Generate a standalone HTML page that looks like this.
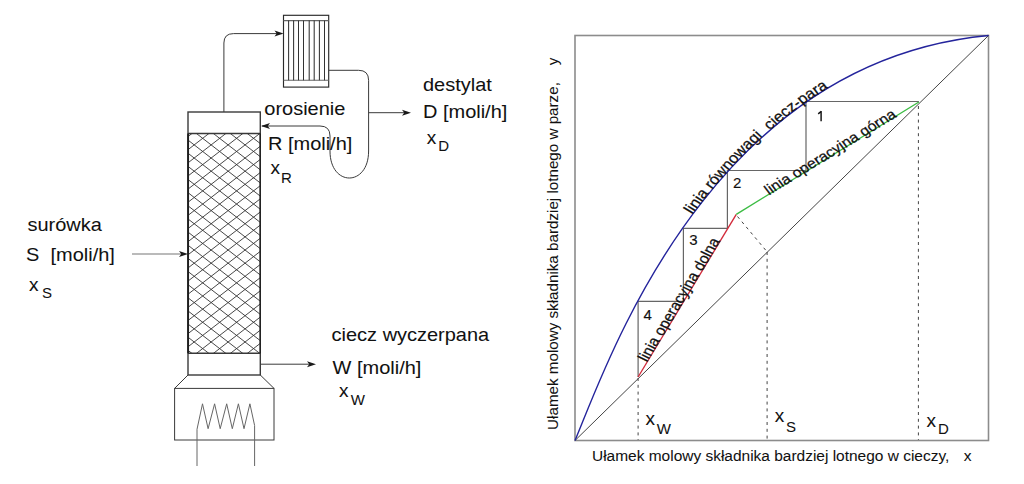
<!DOCTYPE html>
<html><head><meta charset="utf-8"><style>
html,body{margin:0;padding:0;background:#fff;}
svg{display:block;}
text{font-family:"Liberation Sans",sans-serif;white-space:pre;stroke:#111;stroke-width:0.05px;}
.b{stroke-width:0.25px;}
.c{stroke-width:0.15px;}
</style></head><body>
<svg width="1024" height="484" viewBox="0 0 1024 484">
<rect x="283.5" y="15.3" width="45.2" height="71.8" fill="none" stroke="#2a2a2a" stroke-width="1.15"/>
<line x1="283.5" y1="20.6" x2="328.7" y2="20.6" stroke="#666" stroke-width="1.1" />
<line x1="283.5" y1="80.3" x2="328.7" y2="80.3" stroke="#666" stroke-width="1.1" />
<line x1="288.6" y1="20.6" x2="288.6" y2="80.3" stroke="#333" stroke-width="1.05" />
<line x1="293.6" y1="20.6" x2="293.6" y2="80.3" stroke="#333" stroke-width="1.05" />
<line x1="298.5" y1="20.6" x2="298.5" y2="80.3" stroke="#333" stroke-width="1.05" />
<line x1="303.5" y1="20.6" x2="303.5" y2="80.3" stroke="#333" stroke-width="1.05" />
<line x1="309.2" y1="20.6" x2="309.2" y2="80.3" stroke="#333" stroke-width="1.05" />
<line x1="314.2" y1="20.6" x2="314.2" y2="80.3" stroke="#333" stroke-width="1.05" />
<line x1="319.4" y1="20.6" x2="319.4" y2="80.3" stroke="#333" stroke-width="1.05" />
<line x1="324.5" y1="20.6" x2="324.5" y2="80.3" stroke="#333" stroke-width="1.05" />
<path d="M223.9,112 V43 Q223.9,33.6 233.5,33.6 H282" stroke="#3a3a3a" stroke-width="1" fill="none" />
<path d="M283.5,33.6 L274.5,30.6 L276.7,33.6 L274.5,36.6 Z" fill="#1a1a1a"/>
<rect x="188" y="112" width="72.3" height="263" fill="none" stroke="#3a3a3a" stroke-width="1.4"/>
<line x1="188" y1="133.5" x2="260.3" y2="133.5" stroke="#3a3a3a" stroke-width="1.4" />
<line x1="188" y1="353.3" x2="260.3" y2="353.3" stroke="#3a3a3a" stroke-width="1.4" />
<clipPath id="hc"><rect x="188" y="133.5" width="72.3" height="219.8"/></clipPath>
<g clip-path="url(#hc)" stroke="#333" stroke-width="0.9"><line x1="180" y1="-128.90" x2="270" y2="-59.15"/><line x1="180" y1="-106.90" x2="270" y2="-176.65"/><line x1="180" y1="-115.76" x2="270" y2="-46.01"/><line x1="180" y1="-93.76" x2="270" y2="-163.51"/><line x1="180" y1="-102.62" x2="270" y2="-32.87"/><line x1="180" y1="-80.62" x2="270" y2="-150.37"/><line x1="180" y1="-89.48" x2="270" y2="-19.73"/><line x1="180" y1="-67.48" x2="270" y2="-137.23"/><line x1="180" y1="-76.34" x2="270" y2="-6.59"/><line x1="180" y1="-54.34" x2="270" y2="-124.09"/><line x1="180" y1="-63.20" x2="270" y2="6.55"/><line x1="180" y1="-41.20" x2="270" y2="-110.95"/><line x1="180" y1="-50.06" x2="270" y2="19.69"/><line x1="180" y1="-28.06" x2="270" y2="-97.81"/><line x1="180" y1="-36.92" x2="270" y2="32.83"/><line x1="180" y1="-14.92" x2="270" y2="-84.67"/><line x1="180" y1="-23.78" x2="270" y2="45.97"/><line x1="180" y1="-1.78" x2="270" y2="-71.53"/><line x1="180" y1="-10.64" x2="270" y2="59.11"/><line x1="180" y1="11.36" x2="270" y2="-58.39"/><line x1="180" y1="2.50" x2="270" y2="72.25"/><line x1="180" y1="24.50" x2="270" y2="-45.25"/><line x1="180" y1="15.64" x2="270" y2="85.39"/><line x1="180" y1="37.64" x2="270" y2="-32.11"/><line x1="180" y1="28.78" x2="270" y2="98.53"/><line x1="180" y1="50.78" x2="270" y2="-18.97"/><line x1="180" y1="41.92" x2="270" y2="111.67"/><line x1="180" y1="63.92" x2="270" y2="-5.83"/><line x1="180" y1="55.06" x2="270" y2="124.81"/><line x1="180" y1="77.06" x2="270" y2="7.31"/><line x1="180" y1="68.20" x2="270" y2="137.95"/><line x1="180" y1="90.20" x2="270" y2="20.45"/><line x1="180" y1="81.34" x2="270" y2="151.09"/><line x1="180" y1="103.34" x2="270" y2="33.59"/><line x1="180" y1="94.48" x2="270" y2="164.23"/><line x1="180" y1="116.48" x2="270" y2="46.73"/><line x1="180" y1="107.62" x2="270" y2="177.37"/><line x1="180" y1="129.62" x2="270" y2="59.87"/><line x1="180" y1="120.76" x2="270" y2="190.51"/><line x1="180" y1="142.76" x2="270" y2="73.01"/><line x1="180" y1="133.90" x2="270" y2="203.65"/><line x1="180" y1="155.90" x2="270" y2="86.15"/><line x1="180" y1="147.04" x2="270" y2="216.79"/><line x1="180" y1="169.04" x2="270" y2="99.29"/><line x1="180" y1="160.18" x2="270" y2="229.93"/><line x1="180" y1="182.18" x2="270" y2="112.43"/><line x1="180" y1="173.32" x2="270" y2="243.07"/><line x1="180" y1="195.32" x2="270" y2="125.57"/><line x1="180" y1="186.46" x2="270" y2="256.21"/><line x1="180" y1="208.46" x2="270" y2="138.71"/><line x1="180" y1="199.60" x2="270" y2="269.35"/><line x1="180" y1="221.60" x2="270" y2="151.85"/><line x1="180" y1="212.74" x2="270" y2="282.49"/><line x1="180" y1="234.74" x2="270" y2="164.99"/><line x1="180" y1="225.88" x2="270" y2="295.63"/><line x1="180" y1="247.88" x2="270" y2="178.13"/><line x1="180" y1="239.02" x2="270" y2="308.77"/><line x1="180" y1="261.02" x2="270" y2="191.27"/><line x1="180" y1="252.16" x2="270" y2="321.91"/><line x1="180" y1="274.16" x2="270" y2="204.41"/><line x1="180" y1="265.30" x2="270" y2="335.05"/><line x1="180" y1="287.30" x2="270" y2="217.55"/><line x1="180" y1="278.44" x2="270" y2="348.19"/><line x1="180" y1="300.44" x2="270" y2="230.69"/><line x1="180" y1="291.58" x2="270" y2="361.33"/><line x1="180" y1="313.58" x2="270" y2="243.83"/><line x1="180" y1="304.72" x2="270" y2="374.47"/><line x1="180" y1="326.72" x2="270" y2="256.97"/><line x1="180" y1="317.86" x2="270" y2="387.61"/><line x1="180" y1="339.86" x2="270" y2="270.11"/><line x1="180" y1="331.00" x2="270" y2="400.75"/><line x1="180" y1="353.00" x2="270" y2="283.25"/><line x1="180" y1="344.14" x2="270" y2="413.89"/><line x1="180" y1="366.14" x2="270" y2="296.39"/><line x1="180" y1="357.28" x2="270" y2="427.03"/><line x1="180" y1="379.28" x2="270" y2="309.53"/><line x1="180" y1="370.42" x2="270" y2="440.17"/><line x1="180" y1="392.42" x2="270" y2="322.67"/><line x1="180" y1="383.56" x2="270" y2="453.31"/><line x1="180" y1="405.56" x2="270" y2="335.81"/><line x1="180" y1="396.70" x2="270" y2="466.45"/><line x1="180" y1="418.70" x2="270" y2="348.95"/><line x1="180" y1="409.84" x2="270" y2="479.59"/><line x1="180" y1="431.84" x2="270" y2="362.09"/><line x1="180" y1="422.98" x2="270" y2="492.73"/><line x1="180" y1="444.98" x2="270" y2="375.23"/><line x1="180" y1="436.12" x2="270" y2="505.87"/><line x1="180" y1="458.12" x2="270" y2="388.37"/><line x1="180" y1="449.26" x2="270" y2="519.01"/><line x1="180" y1="471.26" x2="270" y2="401.51"/><line x1="180" y1="462.40" x2="270" y2="532.15"/><line x1="180" y1="484.40" x2="270" y2="414.65"/><line x1="180" y1="475.54" x2="270" y2="545.29"/><line x1="180" y1="497.54" x2="270" y2="427.79"/><line x1="180" y1="488.68" x2="270" y2="558.43"/><line x1="180" y1="510.68" x2="270" y2="440.93"/><line x1="180" y1="501.82" x2="270" y2="571.57"/><line x1="180" y1="523.82" x2="270" y2="454.07"/><line x1="180" y1="514.96" x2="270" y2="584.71"/><line x1="180" y1="536.96" x2="270" y2="467.21"/><line x1="180" y1="528.10" x2="270" y2="597.85"/><line x1="180" y1="550.10" x2="270" y2="480.35"/><line x1="180" y1="541.24" x2="270" y2="610.99"/><line x1="180" y1="563.24" x2="270" y2="493.49"/><line x1="180" y1="554.38" x2="270" y2="624.13"/><line x1="180" y1="576.38" x2="270" y2="506.63"/><line x1="180" y1="567.52" x2="270" y2="637.27"/><line x1="180" y1="589.52" x2="270" y2="519.77"/><line x1="180" y1="580.66" x2="270" y2="650.41"/><line x1="180" y1="602.66" x2="270" y2="532.91"/><line x1="180" y1="593.80" x2="270" y2="663.55"/><line x1="180" y1="615.80" x2="270" y2="546.05"/><line x1="180" y1="606.94" x2="270" y2="676.69"/><line x1="180" y1="628.94" x2="270" y2="559.19"/><line x1="180" y1="620.08" x2="270" y2="689.83"/><line x1="180" y1="642.08" x2="270" y2="572.33"/><line x1="180" y1="633.22" x2="270" y2="702.97"/><line x1="180" y1="655.22" x2="270" y2="585.47"/><line x1="180" y1="646.36" x2="270" y2="716.11"/><line x1="180" y1="668.36" x2="270" y2="598.61"/><line x1="180" y1="659.50" x2="270" y2="729.25"/><line x1="180" y1="681.50" x2="270" y2="611.75"/><line x1="180" y1="672.64" x2="270" y2="742.39"/><line x1="180" y1="694.64" x2="270" y2="624.89"/><line x1="180" y1="685.78" x2="270" y2="755.53"/><line x1="180" y1="707.78" x2="270" y2="638.03"/><line x1="180" y1="698.92" x2="270" y2="768.67"/><line x1="180" y1="720.92" x2="270" y2="651.17"/><line x1="180" y1="712.06" x2="270" y2="781.81"/><line x1="180" y1="734.06" x2="270" y2="664.31"/><line x1="180" y1="725.20" x2="270" y2="794.95"/><line x1="180" y1="747.20" x2="270" y2="677.45"/><line x1="180" y1="738.34" x2="270" y2="808.09"/><line x1="180" y1="760.34" x2="270" y2="690.59"/><line x1="180" y1="751.48" x2="270" y2="821.23"/><line x1="180" y1="773.48" x2="270" y2="703.73"/><line x1="180" y1="764.62" x2="270" y2="834.37"/><line x1="180" y1="786.62" x2="270" y2="716.87"/><line x1="180" y1="777.76" x2="270" y2="847.51"/><line x1="180" y1="799.76" x2="270" y2="730.01"/><line x1="180" y1="790.90" x2="270" y2="860.65"/><line x1="180" y1="812.90" x2="270" y2="743.15"/><line x1="180" y1="804.04" x2="270" y2="873.79"/><line x1="180" y1="826.04" x2="270" y2="756.29"/><line x1="180" y1="817.18" x2="270" y2="886.93"/><line x1="180" y1="839.18" x2="270" y2="769.43"/><line x1="180" y1="830.32" x2="270" y2="900.07"/><line x1="180" y1="852.32" x2="270" y2="782.57"/><line x1="180" y1="843.46" x2="270" y2="913.21"/><line x1="180" y1="865.46" x2="270" y2="795.71"/><line x1="180" y1="856.60" x2="270" y2="926.35"/><line x1="180" y1="878.60" x2="270" y2="808.85"/><line x1="180" y1="869.74" x2="270" y2="939.49"/><line x1="180" y1="891.74" x2="270" y2="821.99"/><line x1="180" y1="882.88" x2="270" y2="952.63"/><line x1="180" y1="904.88" x2="270" y2="835.13"/><line x1="180" y1="896.02" x2="270" y2="965.77"/><line x1="180" y1="918.02" x2="270" y2="848.27"/><line x1="180" y1="909.16" x2="270" y2="978.91"/><line x1="180" y1="931.16" x2="270" y2="861.41"/></g>
<line x1="188.1" y1="133.5" x2="188.1" y2="353.3" stroke="#1e1e1e" stroke-width="1.9" />
<line x1="260.2" y1="133.5" x2="260.2" y2="353.3" stroke="#1e1e1e" stroke-width="1.3" />
<path d="M188,375 L174.6,388.4 M260.3,375 L274,388.4" stroke="#3a3a3a" stroke-width="1" fill="none" />
<rect x="174.6" y="388.4" width="99.4" height="51.6" fill="none" stroke="#3a3a3a" stroke-width="1"/>
<path d="M197,466 V429.3 L202.5,403.8 L208.1,428.7 L214.6,403.8 L220.2,428.7 L226.7,403.8 L232.3,428.7 L238.4,403.8 L244,428.7 L249.9,403.8 L254.6,425.5 V466" stroke="#666" stroke-width="1" fill="none" />
<path d="M328.7,70.3 H358.6 Q368.6,70.3 368.6,80.3 V151 C368.6,187 330,187 330,151 V136 Q330,126 320,126 H262" stroke="#3a3a3a" stroke-width="1" fill="none" />
<path d="M261,126 L270,123 L267.8,126 L270,129 Z" fill="#1a1a1a"/>
<line x1="368.6" y1="112.7" x2="408" y2="112.7" stroke="#3a3a3a" stroke-width="1" />
<path d="M411,112.7 L402,109.7 L404.2,112.7 L402,115.7 Z" fill="#1a1a1a"/>
<line x1="132" y1="254" x2="185" y2="254" stroke="#777" stroke-width="1.1" />
<path d="M188,254 L179,251 L181.2,254 L179,257 Z" fill="#1a1a1a"/>
<line x1="260.3" y1="364.2" x2="313" y2="364.2" stroke="#3a3a3a" stroke-width="1" />
<path d="M316,364.2 L307,361.2 L309.2,364.2 L307,367.2 Z" fill="#1a1a1a"/>
<text transform="translate(423,90.6) scale(1.11,1)" font-size="18" fill="#111" >destylat</text>
<text transform="translate(423,118.3) scale(1.11,1)" font-size="18" fill="#111" >D [moli/h]</text>
<text transform="translate(426.7,143.7) scale(1.0,1)" font-size="19" fill="#111" >x</text>
<text transform="translate(438.3,151) scale(1.0,1)" font-size="15" fill="#111" >D</text>
<text transform="translate(264.3,114.8) scale(1.11,1)" font-size="18" fill="#111" >orosienie</text>
<text transform="translate(268,149.9) scale(1.11,1)" font-size="18" fill="#111" >R [moli/h]</text>
<text transform="translate(270.4,174.3) scale(1.0,1)" font-size="19" fill="#111" >x</text>
<text transform="translate(281.1,183.1) scale(1.0,1)" font-size="15" fill="#111" >R</text>
<text transform="translate(27.5,230.5) scale(1.11,1)" font-size="18" fill="#111" >surówka</text>
<text transform="translate(25.9,261.4) scale(1.11,1)" font-size="18" fill="#111" >S</text>
<text transform="translate(50.5,261.4) scale(1.11,1)" font-size="18" fill="#111" >[moli/h]</text>
<text transform="translate(29,290.6) scale(1.0,1)" font-size="19" fill="#111" >x</text>
<text transform="translate(42,298.3) scale(1.0,1)" font-size="15" fill="#111" >S</text>
<text transform="translate(331.6,340.5) scale(1.11,1)" font-size="18" fill="#111" >ciecz wyczerpana</text>
<text transform="translate(332.6,374) scale(1.11,1)" font-size="18" fill="#111" >W [moli/h]</text>
<text transform="translate(339.1,397.4) scale(1.0,1)" font-size="19" fill="#111" >x</text>
<text transform="translate(350.8,404.8) scale(1.0,1)" font-size="15" fill="#111" >W</text>
<rect x="575" y="35.5" width="413.5" height="405.0" fill="none" stroke="#8c8c8c" stroke-width="1.6"/>
<line x1="575" y1="440.5" x2="988.5" y2="35.5" stroke="#444" stroke-width="1" />
<line x1="638.1" y1="378" x2="638.1" y2="440" stroke="#444" stroke-width="1" stroke-dasharray="3 3.8"/>
<line x1="767.1" y1="252" x2="767.1" y2="440" stroke="#444" stroke-width="1" stroke-dasharray="3 3.8"/>
<line x1="918.4" y1="106" x2="918.4" y2="440" stroke="#444" stroke-width="1" stroke-dasharray="3 3.8"/>
<line x1="737.5" y1="216.5" x2="766.9" y2="251.6" stroke="#444" stroke-width="1" stroke-dasharray="3 3.8"/>
<path d="M638.1,377 V301.4 H683.4 V228.4 H727.4 V170.5 H806 V101.5 H918.9" stroke="#666" stroke-width="1.2" fill="none" />
<line x1="638.1" y1="377" x2="736.3" y2="214.3" stroke="#d22a3a" stroke-width="1.35" />
<line x1="736.3" y1="214.3" x2="918.9" y2="102" stroke="#3cbc44" stroke-width="1.4" />
<path id="eq" d="M575,440.5 C606.59,365.75 708.26,62.13 988.5,35.5" stroke="#24249c" stroke-width="1.4" fill="none"/>
<text transform="translate(643.6,319.6) scale(1.0,1)" font-size="15" fill="#111" class="c">4</text>
<text transform="translate(689.2,244.8) scale(1.0,1)" font-size="15" fill="#111" class="c">3</text>
<text transform="translate(732.9,188.2) scale(1.0,1)" font-size="15" fill="#111" class="c">2</text>
<path d="M821.1,121.2 V111.1 M821.3,111.3 L818.2,113.9" stroke="#111" stroke-width="1.45" fill="none" stroke-linecap="butt"/>
<text transform="translate(645.5,424.7) scale(1.0,1)" font-size="19" fill="#111" >x</text>
<text transform="translate(656.8,434.3) scale(1.0,1)" font-size="15" fill="#111" >W</text>
<text transform="translate(774.8,422.4) scale(1.0,1)" font-size="19" fill="#111" >x</text>
<text transform="translate(785.9,432) scale(1.0,1)" font-size="15" fill="#111" >S</text>
<text transform="translate(926.6,427.4) scale(1.0,1)" font-size="19" fill="#111" >x</text>
<text transform="translate(938.1,434.1) scale(1.0,1)" font-size="15" fill="#111" >D</text>
<text transform="translate(592,460.9) scale(1.105,1)" font-size="14" fill="#111" >Ułamek molowy składnika bardziej lotnego w cieczy,</text>
<text transform="translate(963.8,460.9) scale(1.11,1)" font-size="14" fill="#111" >x</text>
<text transform="translate(557.7,429.9) rotate(-90)" font-size="15.2" fill="#111">Ułamek molowy składnika bardziej lotnego w parze,&#160;&#160;&#160; y</text>
<g transform="scale(1.11,1)">
<path id="equ" d="M518.018018018018,440.5 C546.4774774774775,365.75 638.072072072072,62.13 890.5405405405404,35.5" fill="none" stroke="none"/>
<path id="gru" d="M663.3333333333333,214.3 L827.8378378378377,102" fill="none" stroke="none"/>
<path id="dlu" d="M574.8648648648648,377 L663.3333333333333,214.3" fill="none" stroke="none"/>
<text class="b" font-size="14.8" fill="#111" dy="0"><textPath href="#equ" startOffset="250">linia równowagi&#160; ciecz-para</textPath></text>
<text class="b" font-size="14.3" fill="#111" dy="1"><textPath href="#gru" startOffset="35">linia operacyjna górna</textPath></text>
<text class="b" font-size="14.3" fill="#111" dy="0"><textPath href="#dlu" startOffset="16.5">linia operacyjna dolna</textPath></text>
</g>
</svg></body></html>
